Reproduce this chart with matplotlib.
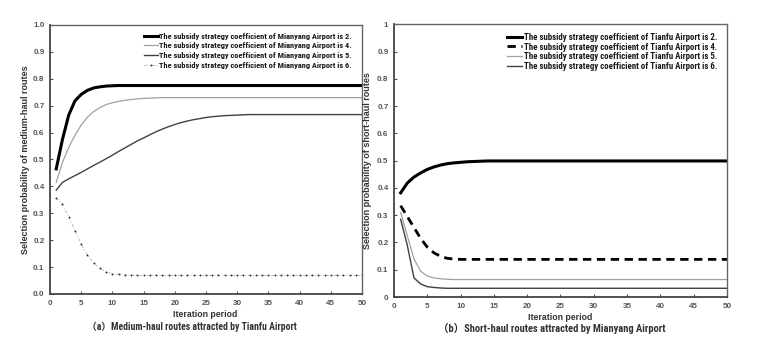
import numpy as np
import matplotlib
matplotlib.use('Agg')
import matplotlib.pyplot as plt

# iteration periods 1..50
periods = list(range(1, 51))

# (a) medium-haul routes attracted by Tianfu Airport
mid_coef2 = [0.465, 0.575, 0.665, 0.718, 0.742, 0.757, 0.766, 0.770, 0.773, 0.774] + [0.775] * 40
mid_coef4 = [0.415, 0.490, 0.545, 0.590, 0.628, 0.657, 0.678, 0.693, 0.704, 0.711,
             0.716, 0.720, 0.723, 0.725, 0.727, 0.728, 0.729] + [0.730] * 33
mid_coef5 = [0.386, 0.415, 0.428, 0.440, 0.452, 0.465, 0.478, 0.490, 0.503, 0.516,
             0.530, 0.543, 0.556, 0.569, 0.580, 0.592, 0.603, 0.613, 0.622, 0.630,
             0.637, 0.643, 0.648, 0.652, 0.656, 0.659, 0.661, 0.663, 0.664, 0.665,
             0.666] + [0.667] * 19
mid_coef6 = [0.357, 0.334, 0.287, 0.235, 0.186, 0.145, 0.116, 0.095, 0.082, 0.076,
             0.073, 0.071, 0.070] + [0.069] * 37

# (b) short-haul routes attracted by Mianyang Airport
short_coef2 = [0.382, 0.418, 0.440, 0.455, 0.468, 0.477, 0.484, 0.489, 0.492, 0.494,
               0.496, 0.497, 0.498] + [0.499] * 37
short_coef4 = [0.335, 0.295, 0.255, 0.215, 0.183, 0.162, 0.149, 0.142, 0.139] + [0.138] * 41
short_coef5 = [0.310, 0.225, 0.140, 0.095, 0.077, 0.070, 0.067, 0.065] + [0.064] * 42
short_coef6 = [0.285, 0.190, 0.070, 0.048, 0.038, 0.035, 0.033] + [0.032] * 43

mid_labels = ['The subsidy strategy coefficient of Mianyang Airport is %d.' % c for c in (2, 4, 5, 6)]
short_labels = ['The subsidy strategy coefficient of Tianfu Airport is %d.' % c for c in (2, 4, 5, 6)]
y_ticks = [0.0, 0.1, 0.2, 0.3, 0.4, 0.5, 0.6, 0.7, 0.8, 0.9, 1.0]
mid_ytick_labels = ['0.0', '0.1', '0.2', '0.3', '0.4', '0.5', '0.6', '0.7', '0.8', '0.9', '1.0']
short_ytick_labels = ['0', '0.1', '0.2', '0.3', '0.4', '0.5', '0.6', '0.7', '0.8', '0.9', '1']

plt.rcParams['font.family'] = ['Liberation Sans', 'Noto Sans CJK SC', 'DejaVu Sans']
narrow = ['Roboto Condensed', 'Liberation Sans', 'Noto Sans CJK SC']
txt = '#333333'

fig = plt.figure(figsize=(7.61, 3.46), dpi=100)
ax1 = fig.add_axes([0.0657, 0.1503, 0.41, 0.7775])
ax2 = fig.add_axes([0.5177, 0.1416, 0.4376, 0.788])

ax1.plot(periods, mid_coef2, color='black', lw=2.2, label=mid_labels[0])
ax1.plot(periods, mid_coef4, color='#a0a0a0', lw=0.9, label=mid_labels[1])
ax1.plot(periods, mid_coef5, color='#404040', lw=1.0, label=mid_labels[2])
ax1.plot(periods, mid_coef6, color='#b8b8b8', lw=0.7, ls=(0, (3, 2, 1, 2)),
         marker='o', ms=1.0, mfc='#333333', mec='#333333', mew=0.3, label=mid_labels[3])

ax2.plot(periods, short_coef2, color='black', lw=2.2, label=short_labels[0])
ax2.plot(periods, short_coef4, color='black', lw=2.0, dashes=(3, 2), label=short_labels[1])
ax2.plot(periods, short_coef5, color='#a0a0a0', lw=0.9, label=short_labels[2])
ax2.plot(periods, short_coef6, color='#404040', lw=1.0, label=short_labels[3])

ax1.set_yticks(y_ticks)
ax1.set_yticklabels(mid_ytick_labels)
ax2.set_yticks(y_ticks)
ax2.set_yticklabels(short_ytick_labels)

for ax in (ax1, ax2):
    ax.set_xlim(0, 50)
    ax.set_ylim(0, 1)
    ax.set_xticks(range(0, 51, 5))
    ax.tick_params(direction='in', length=2.5, width=0.8, labelsize=5.8,
                   labelcolor='#555555', color='#555555', pad=4)
    for lab in ax.get_xticklabels() + ax.get_yticklabels():
        lab.set_fontweight('bold')
    for name, s in ax.spines.items():
        s.set_color('#444444' if name in ('left', 'bottom') else '#666666')
        s.set_linewidth(1.3 if name in ('left', 'bottom') else 1.0)
    ax.set_xlabel('Iteration period', fontsize=6.3, fontweight='bold', color=txt)

ax1.set_ylabel('Selection probability of medium-haul routes', fontsize=6.5, fontweight='bold', color=txt)
ax2.set_ylabel('Selection probability of short-haul routes', fontsize=6.5, fontweight='bold', color=txt)
ax1.yaxis.set_label_coords(-0.064, 0.5)
ax2.yaxis.set_label_coords(-0.065, 0.5)
ax1.xaxis.set_label_coords(0.496, -0.058)
ax2.xaxis.set_label_coords(0.4985, -0.059)

for ax, labsize, spacing, anchor in ((ax1, 6.0, 0.33, (0.968, 0.972)),
                                     (ax2, 6.4, 0.08, (0.970, 0.969))):
    leg = ax.legend(loc='upper right', bbox_to_anchor=anchor, frameon=False,
                    prop={'family': narrow, 'weight': 'bold', 'size': labsize},
                    handlelength=1.7, handletextpad=0.15, labelspacing=spacing, borderpad=0,
                    borderaxespad=0)
    for t in leg.get_texts():
        t.set_color('#1a1a1a')

fig.text(0.252, 0.055, '（a）Medium-haul routes attracted by Tianfu Airport', ha='center', va='center',
         fontsize=7, fontweight='bold', color=txt, family=narrow)
fig.text(0.7247, 0.052, '（b）Short-haul routes attracted by Mianyang Airport', ha='center', va='center',
         fontsize=7.6, fontweight='bold', color=txt, family=narrow)

fig.savefig('out.png', dpi=100)
